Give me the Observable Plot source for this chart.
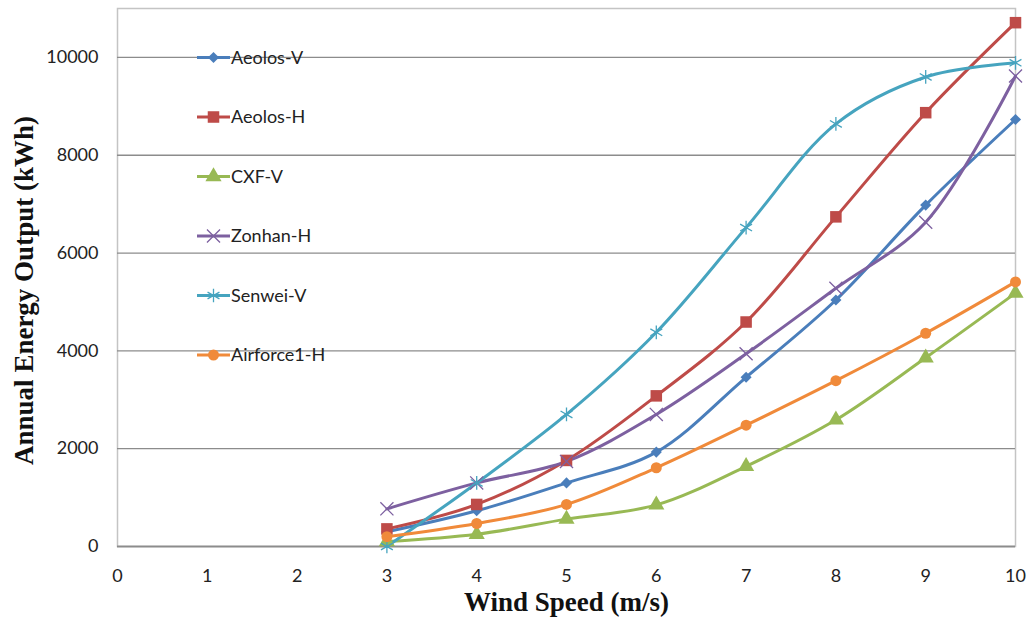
<!DOCTYPE html>
<html>
<head>
<meta charset="utf-8">
<script src="https://cdn.jsdelivr.net/npm/d3@7"></script>
<script src="https://cdn.jsdelivr.net/npm/@observablehq/plot@0.6"></script>
<style>
  html, body { margin: 0; padding: 0; background: #fff; }
  #wrap { position: relative; width: 1034px; height: 619px; }
  #legend { position: absolute; left: 0; top: 0; pointer-events: none; }
</style>
</head>
<body>
<div id="wrap"></div>
<script>
const windSpeeds = [3, 4, 5, 6, 7, 8, 9, 10];
const seriesNames = ["Aeolos-V", "Aeolos-H", "CXF-V", "Zonhan-H", "Senwei-V", "Airforce1-H"];
const seriesColors = ["#4a7ebb", "#be4b48", "#98b954", "#7d60a0", "#46a4bf", "#f08a3a"];
const seriesSymbols = ["diamond2", "square", "triangle", "times", "asterisk", "circle"];
const aeolosV   = [300, 730, 1300, 1930, 3460, 5040, 6980, 8730];
const aeolosH   = [360, 860, 1760, 3080, 4590, 6740, 8870, 10710];
const cxfV      = [100, 250, 560, 850, 1640, 2590, 3860, 5180];
const zonhanH   = [770, 1300, 1740, 2700, 3940, 5280, 6630, 9620];
const senweiV   = [0, 1300, 2700, 4380, 6520, 8640, 9600, 9890];
const airforce1 = [200, 470, 860, 1610, 2480, 3390, 4360, 5410];
const yTicks = [0, 2000, 4000, 6000, 8000, 10000];
const xTicks = [0, 1, 2, 3, 4, 5, 6, 7, 8, 9, 10];

const allSeries = [aeolosV, aeolosH, cxfV, zonhanH, senweiV, airforce1];
const data = [];
seriesNames.forEach((name, i) => {
  allSeries[i].forEach((v, j) => data.push({series: name, speed: windSpeeds[j], energy: v}));
});

const tickFont = "Lato, 'Open Sans', sans-serif";
const markerR = {"Aeolos-V": 5, "Aeolos-H": 6.5, "CXF-V": 6, "Zonhan-H": 6, "Senwei-V": 6.5, "Airforce1-H": 5.5};
const strokedSyms = new Set(["times", "asterisk"]);

const dotMarks = seriesNames.map((name, i) => {
  const stroked = strokedSyms.has(seriesSymbols[i]);
  return Plot.dot(data.filter(d => d.series === name), {
    x: "speed", y: "energy", symbol: "series",
    fill: stroked ? "none" : "series",
    stroke: stroked ? "series" : "none",
    strokeWidth: 1.3,
    r: markerR[name]
  });
});

const chart = Plot.plot({
  width: 1034,
  height: 619,
  marginLeft: 117,
  marginRight: 19,
  marginTop: 8,
  marginBottom: 73,
  style: {fontFamily: tickFont, fontSize: "18px", color: "#222", background: "#fff"},
  x: {domain: [0, 10], label: null},
  y: {domain: [0, 11000], label: null},
  color: {domain: seriesNames, range: seriesColors},
  symbol: {domain: seriesNames, range: seriesSymbols},
  marks: [
    Plot.frame({stroke: "#c4c4c4", strokeWidth: 1.5}),
    Plot.gridY(yTicks, {stroke: "#8c8c8c", strokeOpacity: 1, strokeWidth: 1.3}),
    Plot.ruleY([0], {stroke: "#8c8c8c", strokeWidth: 1.5}),
    Plot.line(data, {x: "speed", y: "energy", z: "series", stroke: "series", strokeWidth: 3, curve: "catmull-rom"}),
    ...dotMarks,
    Plot.axisY({ticks: yTicks, tickFormat: "d", tickSize: 0, tickPadding: 19, label: null, fontSize: 18}),
    Plot.axisX({ticks: xTicks, tickFormat: "d", tickSize: 0, tickPadding: 23, label: null, fontSize: 18}),
    Plot.text(["Wind Speed (m/s)"], {frameAnchor: "bottom", lineAnchor: "bottom", dy: 64, fontFamily: "'Liberation Serif', serif", fontWeight: "bold", fontSize: 27, fill: "#111"}),
    Plot.text(["Annual Energy Output (kWh)"], {frameAnchor: "left", textAnchor: "middle", dx: -93, dy: 13, rotate: -90, fontFamily: "'Liberation Serif', serif", fontWeight: "bold", fontSize: 27, fill: "#111"})
  ]
});

const wrap = document.getElementById("wrap");
wrap.appendChild(chart);

// Legend inside plot area
const leg = d3.select(wrap).append("svg")
  .attr("id", "legend").attr("width", 1034).attr("height", 619);
const symMap = {diamond2: d3.symbolDiamond2, square: d3.symbolSquare, triangle: d3.symbolTriangle, times: d3.symbolTimes, asterisk: d3.symbolAsterisk, circle: d3.symbolCircle};
const legTop = 57.5, legStep = 59.5, legX0 = 197, legX1 = 230;
seriesNames.forEach((name, i) => {
  const y = legTop + i * legStep;
  const g = leg.append("g");
  g.append("line").attr("x1", legX0).attr("x2", legX1).attr("y1", y).attr("y2", y)
    .attr("stroke", seriesColors[i]).attr("stroke-width", 3);
  const sym = seriesSymbols[i];
  const stroked = strokedSyms.has(sym);
  const r = markerR[name];
  g.append("path").attr("transform", `translate(${(legX0 + legX1) / 2},${y})`)
    .attr("d", d3.symbol(symMap[sym], r * r * Math.PI)())
    .attr("fill", stroked ? "none" : seriesColors[i])
    .attr("stroke", stroked ? seriesColors[i] : "none").attr("stroke-width", 1.3);
  g.append("text").attr("x", legX1 + 1).attr("y", y).attr("dy", "0.35em")
    .attr("font-family", tickFont).attr("font-size", 18).attr("fill", "#222").text(name);
});
</script>
</body>
</html>
